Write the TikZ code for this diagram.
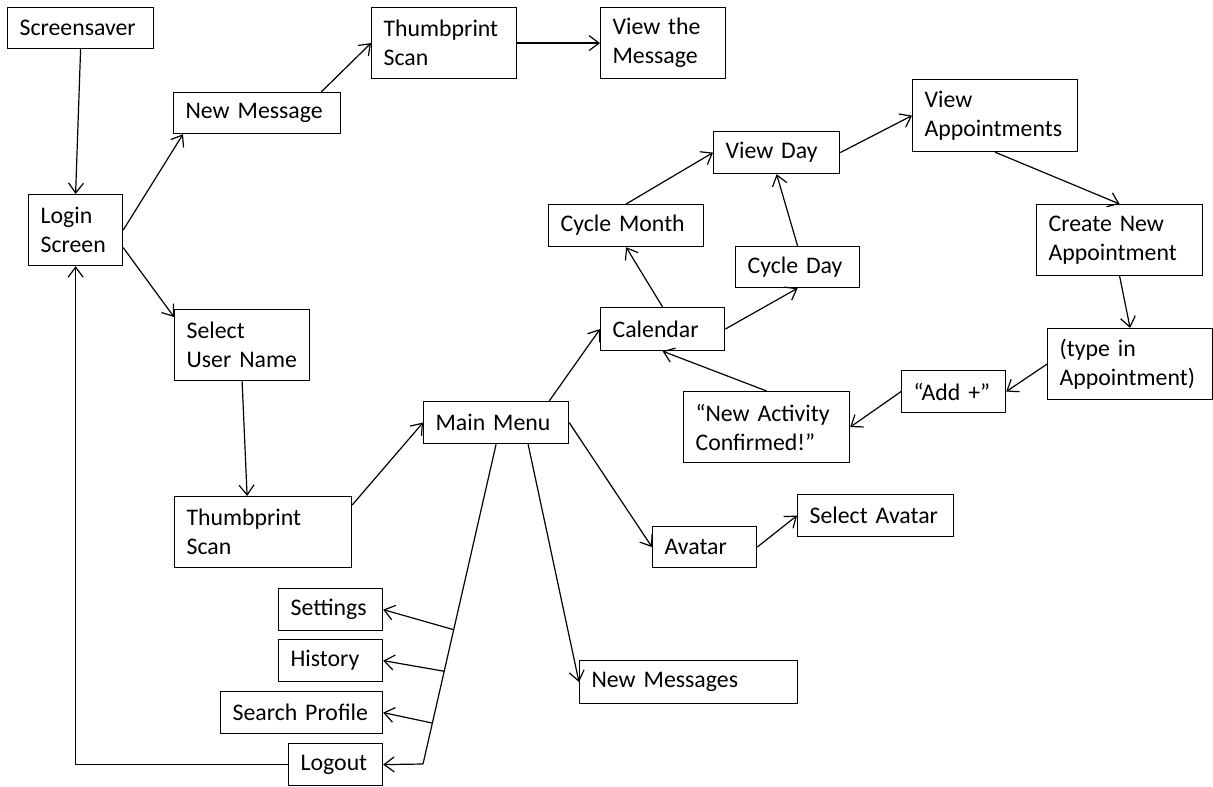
\documentclass[tikz,border=0pt]{standalone}
\usepackage{fontspec}
\setmainfont{Carlito}
\usetikzlibrary{arrows.meta, calc}
\tikzset{
  panel/.style={draw, line width=0.6pt, anchor=north west, align=left,
    inner xsep=6pt, inner ysep=0pt, font=\fontsize{11.9}{14.5}\selectfont},
  flow/.style={-{Straight Barb[length=5pt, width=7.5pt]}, line width=0.6pt},
  link/.style={line width=0.6pt},
}
\begin{document}
\begin{tikzpicture}[x=0.5pt, y=-0.5pt]
  \useasboundingbox (0,0) rectangle (1213,786);

  % === Login path ===
  \node[panel, text width=61pt, minimum height=20.5pt] (scr) at (7,7) {Screensaver};
  \node[panel, text width=35pt, minimum height=35.5pt] (login) at (28,194) {Login\\Screen};
  \node[panel, text width=71.5pt, minimum height=20.5pt] (newmsg) at (173,92) {New Message};
  \node[panel, text width=60.5pt, minimum height=35.5pt] (thumbA) at (371,7) {Thumbprint\\Scan};
  \node[panel, text width=50.5pt, minimum height=35.5pt] (viewmsg) at (600,7) {View the\\Message};
  \node[panel, text width=55.5pt, minimum height=35.5pt] (user) at (174,309) {Select\\User Name};
  \node[panel, text width=76.5pt, minimum height=35.5pt] (thumbB) at (174,496) {Thumbprint\\Scan};

  % === Main menu ===
  \node[panel, text width=60.5pt, minimum height=21pt] (menu) at (423,401) {Main Menu};

  % === Calendar loop ===
  \node[panel, text width=50pt, minimum height=21.5pt] (cal) at (600,307) {Calendar};
  \node[panel, text width=65.5pt, minimum height=21pt] (month) at (548,204) {Cycle Month};
  \node[panel, text width=50pt, minimum height=20.5pt] (cday) at (735,246) {Cycle Day};
  \node[panel, text width=51pt, minimum height=21pt] (vday) at (713,131) {View Day};
  \node[panel, text width=70.5pt, minimum height=36pt] (vapp) at (912,79) {View\\Appointments};
  \node[panel, text width=71pt, minimum height=35.5pt] (newapp) at (1036,204) {Create New\\Appointment};
  \node[panel, text width=70.5pt, minimum height=35.5pt] (typein) at (1047,328) {(type in\\Appointment)};
  \node[panel, text width=40pt, minimum height=21pt] (add) at (901,370) {“Add +”};
  \node[panel, text width=71pt, minimum height=35.5pt] (confirm) at (683,391) {“New Activity\\Confirmed!”};

  % === Avatar and messages ===
  \node[panel, text width=40pt, minimum height=20.5pt] (avatar) at (652,526) {Avatar};
  \node[panel, text width=66pt, minimum height=21pt] (selav) at (797,494) {Select Avatar};
  \node[panel, text width=97pt, minimum height=21.5pt] (newmsgs) at (579,660) {New Messages};

  % === Side menu ===
  \node[panel, text width=40pt, minimum height=21pt] (settings) at (278,588) {Settings};
  \node[panel, text width=40pt, minimum height=21pt] (history) at (278,639) {History};
  \node[panel, text width=69pt, minimum height=21pt] (search) at (220,691) {Search Profile};
  \node[panel, text width=35pt, minimum height=21pt] (logout) at (288,743) {Logout};

  % Arrows: login path
  \draw[flow] (scr.south) -- (login.north);
  \draw[flow] (login.east) -- ([xshift=5pt]newmsg.south west);
  \draw[flow] ([xshift=-10pt]newmsg.north east) -- (thumbA.west);
  \draw[flow] (thumbA.east) -- (viewmsg.west);
  \draw[flow] ([yshift=-8.75pt]login.east) -- ([yshift=-4pt]user.north west);
  \draw[flow] (user.south) -- ([xshift=-8pt]thumbB.north);
  \draw[flow] ([yshift=-4.5pt]thumbB.north east) -- (menu.west);

  % Arrows: calendar loop
  \draw[flow] ([xshift=-10pt]menu.north east) -- (cal.west);
  \draw[flow] (cal.north) -- (month.south);
  \draw[flow] (month.north) -- (vday.west);
  \draw[flow] (cal.east) -- (cday.south);
  \draw[flow] (cday.north) -- (vday.south);
  \draw[flow] (vday.east) -- (vapp.west);
  \draw[flow] (vapp.south) -- (newapp.north);
  \draw[flow] (newapp.south) -- (typein.north);
  \draw[flow] (typein.west) -- (add.east);
  \draw[flow] (add.west) -- (confirm.east);
  \draw[flow] (confirm.north) -- (cal.south);

  % Arrows: avatar, messages
  \draw[flow] (menu.east) -- (avatar.west);
  \draw[flow] (avatar.east) -- (selav.west);
  \draw[flow] ([xshift=16pt]menu.south) -- (newmsgs.west);

  % Side menu fork
  \coordinate (fork) at (423,764);
  \draw[link] (menu.south) -- (fork);
  \draw[flow] ($(menu.south)!0.58!(fork)$) -- (settings.east);
  \draw[flow] ($(menu.south)!0.71!(fork)$) -- (history.east);
  \draw[flow] ($(menu.south)!0.872!(fork)$) -- (search.east);
  \draw[flow] (fork) -- (logout.east);
  \draw[flow] (logout.west) -| (login.south);

\end{tikzpicture}
\end{document}
